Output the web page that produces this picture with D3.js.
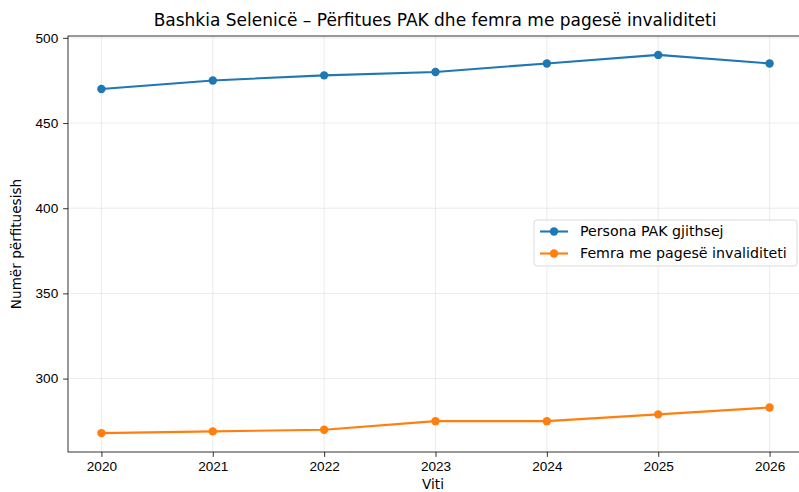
<!DOCTYPE html>
<html>
<head>
<meta charset="utf-8">
<script src="https://cdn.jsdelivr.net/npm/d3@7"></script>
<style>
  body { margin: 0; background: #fff; }
  svg { display: block; font-family: "DejaVu Sans", sans-serif; }
  .tick text { font-size: 13.6px; fill: #000; }
</style>
</head>
<body>
<div id="chart"></div>
<script>
'use strict';

var years = [2020, 2021, 2022, 2023, 2024, 2025, 2026];
var totalPak = [470, 475, 478, 480, 485, 490, 485];
var womenInvalid = [268, 269, 270, 275, 275, 279, 283];
var yTicks = [300, 350, 400, 450, 500];
var seriesNames = ['Persona PAK gjithsej', 'Femra me pagesë invaliditeti'];
var seriesColors = ['#1f77b4', '#ff7f0e'];

var width = 799, height = 492;
// the reference is clipped on the right, frame runs past the edge
var margin = { top: 36, right: -4, bottom: 40, left: 68 };
var innerW = width - margin.left - margin.right;
var innerH = height - margin.top - margin.bottom;

var svg = d3.select('#chart').append('svg')
    .attr('width', width).attr('height', height);

var g = svg.append('g')
    .attr('transform', 'translate(' + margin.left + ',' + margin.top + ')');

// matplotlib style 5% padding on both axes
var xPad = (d3.max(years) - d3.min(years)) * 0.05;
var x = d3.scaleLinear()
    .domain([d3.min(years) - xPad, d3.max(years) + xPad])
    .range([0, innerW]);

var allVals = totalPak.concat(womenInvalid);
var yMin = d3.min(allVals), yMax = d3.max(allVals);
var yPad = (yMax - yMin) * 0.05;
var y = d3.scaleLinear()
    .domain([yMin - yPad, yMax + yPad])
    .range([innerH, 0]);

// grid
g.append('g').selectAll('line').data(years).enter().append('line')
    .attr('x1', function (d) { return x(d); }).attr('x2', function (d) { return x(d); })
    .attr('y1', 0).attr('y2', innerH)
    .attr('stroke', '#b0b0b0').attr('stroke-opacity', 0.3).attr('stroke-width', 0.8);
g.append('g').selectAll('line').data(yTicks).enter().append('line')
    .attr('y1', function (d) { return y(d); }).attr('y2', function (d) { return y(d); })
    .attr('x1', 0).attr('x2', innerW)
    .attr('stroke', '#b0b0b0').attr('stroke-opacity', 0.3).attr('stroke-width', 0.8);

// axes
var xAxis = d3.axisBottom(x).tickValues(years).tickFormat(d3.format('d'))
    .tickSize(4.9).tickPadding(4.9);
var yAxis = d3.axisLeft(y).tickValues(yTicks).tickFormat(d3.format('d'))
    .tickSize(4.9).tickPadding(4.9);

g.append('g').attr('transform', 'translate(0,' + innerH + ')').call(xAxis)
    .call(function (s) { s.select('.domain').remove(); })
    .selectAll('.tick line').attr('stroke-width', 0.8);
g.append('g').call(yAxis)
    .call(function (s) { s.select('.domain').remove(); })
    .selectAll('.tick line').attr('stroke-width', 0.8);

// frame
g.append('rect').attr('width', innerW).attr('height', innerH)
    .attr('fill', 'none').attr('stroke', '#000').attr('stroke-width', 0.8);

// lines
var line = d3.line()
    .x(function (d, i) { return x(years[i]); })
    .y(function (d) { return y(d); });

[totalPak, womenInvalid].forEach(function (vals, k) {
    g.append('path').datum(vals)
        .attr('d', line).attr('fill', 'none')
        .attr('stroke', seriesColors[k]).attr('stroke-width', 2.1);
    g.append('g').selectAll('circle').data(vals).enter().append('circle')
        .attr('cx', function (d, i) { return x(years[i]); })
        .attr('cy', function (d) { return y(d); })
        .attr('r', 4.2).attr('fill', seriesColors[k]);
});

// legend
var lg = svg.append('g').attr('transform', 'translate(534,220)');
lg.append('rect').attr('width', 263).attr('height', 46).attr('rx', 3)
    .attr('fill', '#fff').attr('fill-opacity', 0.8)
    .attr('stroke', '#d0d0d0').attr('stroke-width', 0.8);
seriesNames.forEach(function (name, k) {
    var ly = 11.5 + k * 22;
    lg.append('line').attr('x1', 6).attr('x2', 34).attr('y1', ly).attr('y2', ly)
        .attr('stroke', seriesColors[k]).attr('stroke-width', 2.1);
    lg.append('circle').attr('cx', 20).attr('cy', ly).attr('r', 4.2).attr('fill', seriesColors[k]);
    lg.append('text').attr('x', 46).attr('y', ly).attr('dy', '0.35em')
        .attr('font-size', 14.2).text(name);
});

// labels
svg.append('text').attr('x', 435).attr('y', 26)
    .attr('text-anchor', 'middle').attr('font-size', 17).text('Bashkia Selenicë – Përfitues PAK dhe femra me pagesë invaliditeti');
svg.append('text').attr('x', 433).attr('y', 489)
    .attr('text-anchor', 'middle').attr('font-size', 13.6).text('Viti');
svg.append('text').attr('transform', 'translate(21,' + (margin.top + innerH / 2) + ') rotate(-90)')
    .attr('text-anchor', 'middle').attr('font-size', 13.6).text('Numër përfituesish');
</script>
</body>
</html>
